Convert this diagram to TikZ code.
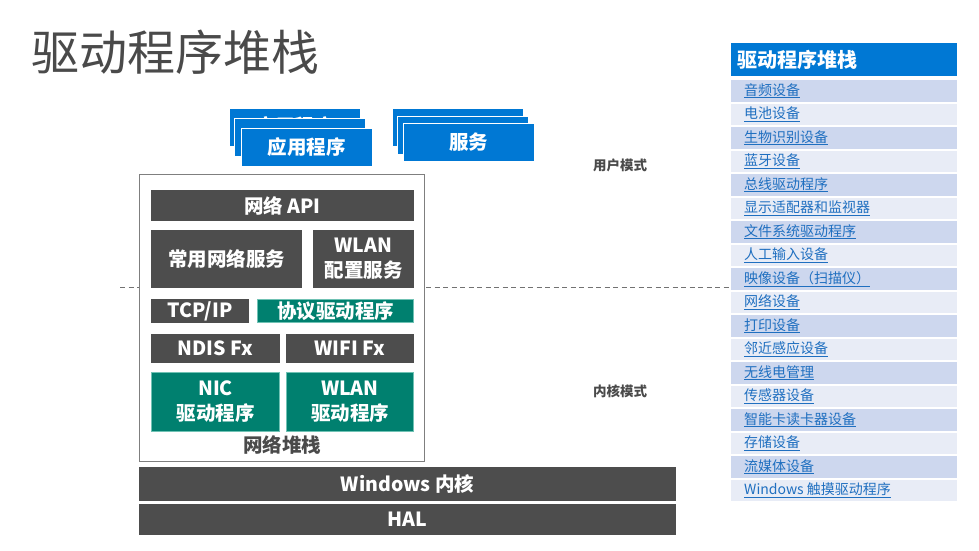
\documentclass[tikz,border=0pt]{standalone}
\usepackage{fontspec}
\setmainfont{Noto Sans CJK SC}
\definecolor{dgray}{HTML}{4D4D4D}
\definecolor{tealf}{HTML}{00806F}
\definecolor{tealb}{HTML}{70C2B4}
\definecolor{msblue}{HTML}{0078D4}
\definecolor{rowA}{HTML}{CDD7EE}
\definecolor{rowB}{HTML}{E8ECF6}
\definecolor{linkc}{HTML}{1F6FC0}
\definecolor{titlec}{HTML}{4A4A4A}
\definecolor{framec}{HTML}{7F7F7F}
\begin{document}
\begin{tikzpicture}[x=1pt,y=-1pt,
  boxfont/.style={font=\fontsize{19.5}{25}\selectfont\bfseries},
  dbox/.style={boxfont,fill=dgray,text=white,inner sep=0pt,align=center},
  tbox/.style={boxfont,fill=tealf,draw=tealb,line width=1.5pt,text=white,inner sep=0pt,align=center},
  bbox/.style={boxfont,fill=msblue,draw=white,line width=1pt,text=white,inner sep=0pt,minimum width=131pt,minimum height=38pt},
  rowbox/.style={inner sep=0pt,minimum width=226pt,minimum height=21.5pt},
  rowtext/.style={font=\fontsize{14}{16}\selectfont,text=linkc,inner sep=0pt,anchor=west},
  modelabel/.style={font=\fontsize{13.5}{16}\selectfont\bfseries,text=titlec,inner sep=0pt}]
\useasboundingbox (0,0) rectangle (979,551);

% title
\node[font=\fontsize{48}{52}\selectfont,text=titlec,anchor=west,inner sep=0pt] (title) at (31,52) {驱动程序堆栈};

% user/kernel dashed divider
\coordinate (dl) at (120,287);
\coordinate (dr) at (729,287);
\draw[framec!90!black,dashed,dash pattern=on 5pt off 3.5pt,line width=0.8pt] (dl) -- (dr);

% application stack
\node[bbox] (app3) at (294.5,127) {};
\node[font=\fontsize{19.5}{25}\selectfont\bfseries,text=white,inner sep=0pt] (app3t) at (294.5,126) {应用程序};
\node[bbox] (app2) at (300,137.5) {};
\node[bbox] (app1) at (306.5,147) {应用程序};
% services stack
\node[bbox] (svc3) at (457.5,127) {};
\node[bbox] (svc2) at (463,135) {};
\node[bbox] (svc1) at (468.5,142.5) {服务};

% network stack frame
\node[draw=framec,fill=white,line width=1pt,minimum width=285pt,minimum height=287pt,inner sep=0pt] (stack) at (281.5,317.5) {};
\node[font=\fontsize{19.5}{24}\selectfont\bfseries,text=titlec,inner sep=0pt] (stacklbl) at (282,445) {网络堆栈};

\node[dbox,minimum width=263pt,minimum height=31pt] (api) at (282.5,205.5) {网络 API};
\node[dbox,minimum width=151pt,minimum height=58pt] (common) at (226.5,259) {常用网络服务};
\node[dbox,minimum width=101pt,minimum height=58pt] (wlancfg) at (363.5,259) {WLAN\\配置服务};
\node[dbox,minimum width=98pt,minimum height=24pt] (tcpip) at (200,311) {TCP/IP};
\node[tbox,minimum width=156pt,minimum height=23pt] (proto) at (335.5,311) {协议驱动程序};
\node[dbox,minimum width=129pt,minimum height=29pt] (ndis) at (215.5,348.5) {NDIS Fx};
\node[dbox,minimum width=128pt,minimum height=29pt] (wifi) at (350,348.5) {WIFI Fx};
\node[tbox,minimum width=128pt,minimum height=59pt] (nic) at (215.5,402) {NIC\\驱动程序};
\node[tbox,minimum width=127pt,minimum height=59pt] (wlandrv) at (350,402) {WLAN\\驱动程序};

% kernel and HAL
\node[dbox,minimum width=537pt,minimum height=34pt] (kernel) at (407.5,484) {Windows 内核};
\node[dbox,minimum width=537pt,minimum height=31pt] (hal) at (407.5,519.5) {HAL};

% mode labels
\node[modelabel] (usermode) at (620,165) {用户模式};
\node[modelabel] (kernelmode) at (620,391) {内核模式};

% right panel
\node[fill=msblue,inner sep=0pt,minimum width=226pt,minimum height=33pt] (hdr) at (844,59.5) {};
\node[font=\fontsize{20}{24}\selectfont\bfseries,text=white,anchor=west,inner sep=0pt] (hdrt) at (737,59.5) {驱动程序堆栈};
\foreach \t [count=\i from 0] in {音频设备,电池设备,生物识别设备,蓝牙设备,总线驱动程序,显示适配器和监视器,文件系统驱动程序,人工输入设备,映像设备（扫描仪）,网络设备,打印设备,邻近感应设备,无线电管理,传感器设备,智能卡读卡器设备,存储设备,流媒体设备,Windows 触摸驱动程序}{
  \pgfmathsetmacro\yy{90.75+23.5*\i}
  \ifodd\i \def\rc{rowB}\else\def\rc{rowA}\fi
  \node[rowbox,fill=\rc] (row\i) at (844,\yy) {};
  \node[rowtext] (rowt\i) at (744,\yy) {\underline{\t}};
}
\end{tikzpicture}
\end{document}
